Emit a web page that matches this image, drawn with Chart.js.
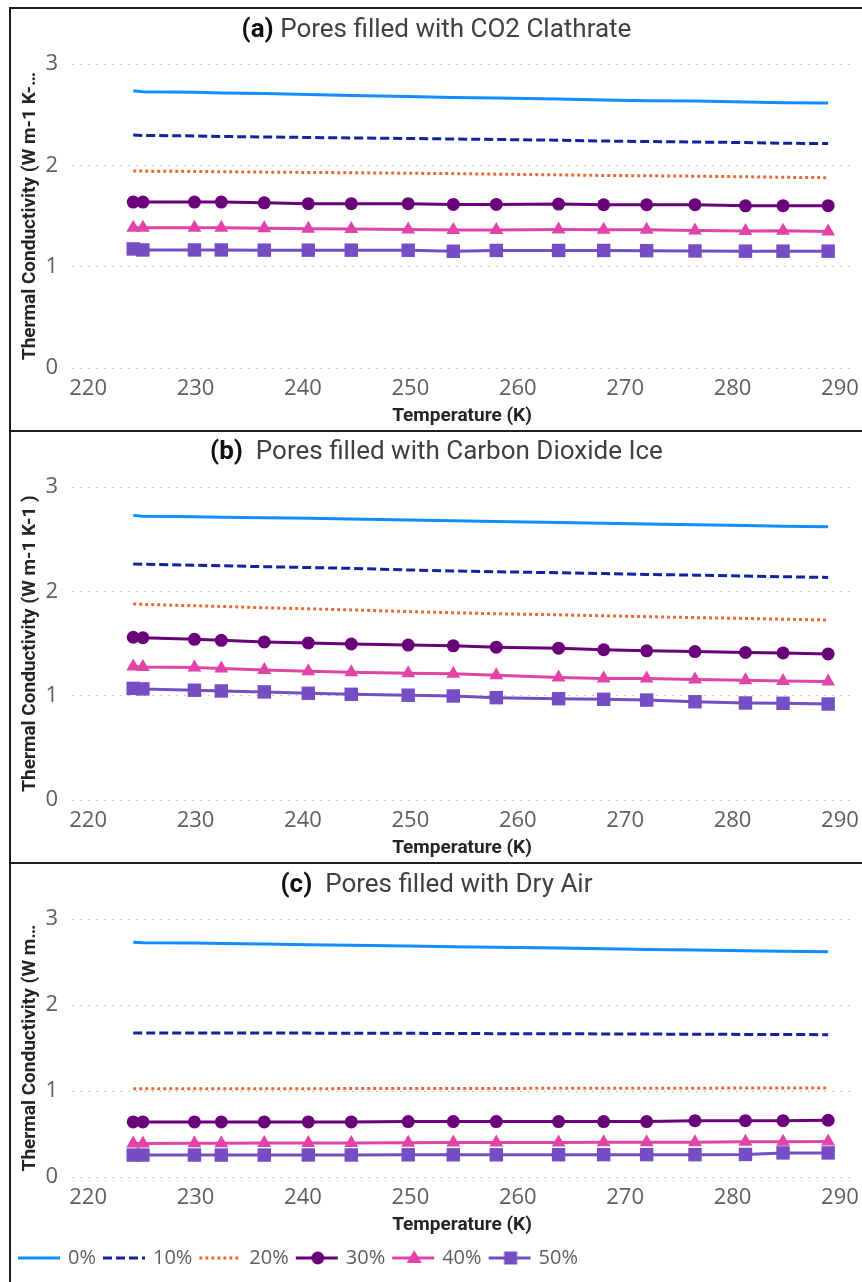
<!DOCTYPE html>
<html>
<head>
<meta charset="utf-8">
<script src="https://cdn.jsdelivr.net/npm/chart.js@4.4.1/dist/chart.umd.min.js"></script>
<style>
  body { margin:0; background:#fff; width:862px; height:1282px; overflow:hidden; position:relative; }
  .panel { position:absolute; left:9px; width:860px; border-left:2px solid #1e1e1e; border-top:2px solid #1e1e1e; }
  .title { position:absolute; left:0; width:851px; text-align:center; line-height:30px;
           font-family: Roboto, "Noto Sans", sans-serif; font-size:26px; color:#404040; white-space:pre; }
  .title b { color:#111; }
  .box { position:absolute; left:0; top:0; width:851px; }
</style>
</head>
<body>

<div class="panel" style="top:7px;height:421px">
  <div class="box" style="height:421px"><canvas id="chartA"></canvas></div>
  <div class="title" style="top:4px"><b>(a)</b> Pores filled with CO2 Clathrate</div>
</div>
<div class="panel" style="top:430px;height:430px">
  <div class="box" style="height:430px"><canvas id="chartB"></canvas></div>
  <div class="title" style="top:3px"><b>(b)</b>  Pores filled with Carbon Dioxide Ice</div>
</div>
<div class="panel" style="top:862px;height:420px">
  <div class="box" style="height:418px"><canvas id="chartC"></canvas></div>
  <div class="title" style="top:4px"><b>(c)</b>  Pores filled with Dry Air</div>
</div>

<script>
// temperatures (K) shared by every curve
var temps = [224.2, 225.1, 229.9, 232.4, 236.4, 240.5, 244.5, 249.8, 254.0, 258.0, 263.8, 268.0, 272.0, 276.5, 281.2, 284.7, 288.9]
var porosity = ['0%', '10%', '20%', '30%', '40%', '50%']
var xTicks = [220, 230, 240, 250, 260, 270, 280, 290]
var yTicks = [0, 1, 2, 3]

// (a) CO2 clathrate
var clath0  = [2.735, 2.725, 2.72, 2.715, 2.71, 2.70, 2.69, 2.68, 2.67, 2.665, 2.655, 2.645, 2.637, 2.635, 2.625, 2.617, 2.614]
var clath10 = [2.30, 2.295, 2.29, 2.285, 2.28, 2.275, 2.27, 2.265, 2.26, 2.255, 2.248, 2.24, 2.235, 2.23, 2.225, 2.218, 2.215]
var clath20 = [1.945, 1.943, 1.94, 1.937, 1.933, 1.93, 1.927, 1.922, 1.918, 1.913, 1.906, 1.90, 1.897, 1.893, 1.887, 1.882, 1.878]
var clath30 = [1.637, 1.637, 1.637, 1.637, 1.63, 1.622, 1.622, 1.622, 1.614, 1.614, 1.618, 1.611, 1.611, 1.612, 1.60, 1.602, 1.602]
var clath40 = [1.385, 1.385, 1.385, 1.383, 1.378, 1.373, 1.372, 1.368, 1.362, 1.362, 1.368, 1.365, 1.365, 1.356, 1.353, 1.355, 1.347]
var clath50 = [1.175, 1.165, 1.165, 1.165, 1.163, 1.163, 1.163, 1.162, 1.152, 1.16, 1.16, 1.16, 1.158, 1.155, 1.153, 1.153, 1.153]

// (b) carbon dioxide ice
var ice0  = [2.728, 2.72, 2.715, 2.71, 2.705, 2.70, 2.693, 2.683, 2.676, 2.67, 2.66, 2.652, 2.645, 2.638, 2.63, 2.624, 2.62]
var ice10 = [2.263, 2.26, 2.25, 2.245, 2.236, 2.228, 2.22, 2.205, 2.195, 2.188, 2.178, 2.17, 2.162, 2.155, 2.146, 2.14, 2.133]
var ice20 = [1.879, 1.875, 1.862, 1.855, 1.843, 1.832, 1.822, 1.806, 1.795, 1.785, 1.775, 1.766, 1.757, 1.748, 1.74, 1.733, 1.725]
var ice30 = [1.56, 1.555, 1.54, 1.53, 1.515, 1.505, 1.495, 1.485, 1.478, 1.465, 1.455, 1.44, 1.43, 1.423, 1.414, 1.41, 1.40]
var ice40 = [1.28, 1.275, 1.27, 1.26, 1.245, 1.235, 1.225, 1.215, 1.21, 1.195, 1.175, 1.165, 1.165, 1.155, 1.148, 1.14, 1.135]
var ice50 = [1.07, 1.065, 1.052, 1.045, 1.036, 1.023, 1.013, 1.004, 0.997, 0.981, 0.971, 0.965, 0.958, 0.942, 0.93, 0.927, 0.92]

// (c) dry air
var air0  = [2.73, 2.725, 2.72, 2.715, 2.71, 2.70, 2.695, 2.685, 2.678, 2.672, 2.663, 2.653, 2.645, 2.64, 2.632, 2.625, 2.62]
var air10 = [1.675, 1.675, 1.675, 1.675, 1.674, 1.673, 1.672, 1.671, 1.668, 1.667, 1.665, 1.664, 1.662, 1.66, 1.658, 1.657, 1.655]
var air20 = [1.025, 1.025, 1.025, 1.025, 1.026, 1.027, 1.028, 1.029, 1.03, 1.03, 1.031, 1.032, 1.032, 1.033, 1.034, 1.035, 1.035]
var air30 = [0.64, 0.64, 0.64, 0.64, 0.64, 0.64, 0.64, 0.645, 0.645, 0.645, 0.645, 0.645, 0.645, 0.655, 0.655, 0.655, 0.66]
var air40 = [0.39, 0.39, 0.392, 0.393, 0.394, 0.395, 0.396, 0.398, 0.40, 0.40, 0.402, 0.403, 0.403, 0.405, 0.41, 0.41, 0.412]
var air50 = [0.255, 0.255, 0.255, 0.255, 0.255, 0.256, 0.256, 0.258, 0.258, 0.258, 0.259, 0.26, 0.26, 0.26, 0.262, 0.28, 0.28]

// look of each porosity curve
var styles = [
  { color: '#118DFF', dash: [],     marker: false, radius: 0 },
  { color: '#12239E', dash: [9, 4], marker: false, radius: 0 },
  { color: '#E66C37', dash: [3, 3], marker: false, radius: 0 },
  { color: '#6B007B', dash: [],     marker: 'circle',   radius: 6.5 },
  { color: '#E044A7', dash: [],     marker: 'triangle', radius: 8 },
  { color: '#744EC2', dash: [],     marker: 'rect',     radius: 9.5 }
]

var tickColor = '#605E5C'
var tickFont = { family: '"Open Sans", sans-serif', size: 22 }
var titleFont = { family: 'Roboto, sans-serif', size: 19, weight: 'bold' }

function eachOf(arr, fn){ for (var i = 0; i < arr.length; i++) fn(i, arr[i]) }

function buildDatasets(series){
  var out = []
  eachOf(series, function(i, values){
    var st = styles[i]
    out.push({
      label: porosity[i],
      data: temps.map(function(t, k){ return { x: t, y: values[k] } }),
      borderColor: st.color,
      backgroundColor: st.color,
      borderWidth: 3,
      borderDash: st.dash,
      pointStyle: st.marker || 'circle',
      pointRadius: st.radius,
      pointHoverRadius: st.radius,
      pointBorderWidth: 0,
      pointBackgroundColor: st.color,
      tension: 0
    })
  })
  return out
}

// legend sample: small canvas with the line and marker
function legendSample(st){
  var c = document.createElement('canvas')
  c.width = 44; c.height = 20
  var g = c.getContext('2d')
  g.strokeStyle = st.color
  g.fillStyle = st.color
  g.lineWidth = 3
  g.setLineDash(st.dash)
  g.beginPath(); g.moveTo(1, 10); g.lineTo(43, 10); g.stroke()
  g.setLineDash([])
  if (st.marker == 'circle'){
    g.beginPath(); g.arc(23, 10, 6.5, 0, Math.PI * 2); g.fill()
  } else if (st.marker == 'triangle'){
    g.beginPath(); g.moveTo(23, 2); g.lineTo(30.5, 15); g.lineTo(15.5, 15); g.closePath(); g.fill()
  } else if (st.marker == 'rect'){
    g.fillRect(16.5, 3.5, 13, 13)
  }
  return c
}

function makeChart(id, yTitle, series, withLegend){
  var ctx = document.getElementById(id).getContext('2d')
  return new Chart(ctx, {
    type: 'line',
    data: { datasets: buildDatasets(series) },
    options: {
      responsive: true,
      maintainAspectRatio: false,
      animation: false,
      layout: { padding: { top: 55, right: 10, left: 0, bottom: withLegend ? 4 : 0 } },
      plugins: {
        tooltip: { enabled: false },
        legend: {
          display: withLegend,
          position: 'bottom',
          align: 'start',
          labels: {
            usePointStyle: true,
            pointStyleWidth: 38,
            padding: 9,
            color: tickColor,
            font: { family: '"Open Sans", sans-serif', size: 20 },
            generateLabels: function(chart){
              return chart.data.datasets.map(function(ds, i){
                return { text: ds.label, pointStyle: legendSample(styles[i]), fontColor: tickColor,
                         lineWidth: 0, hidden: false, datasetIndex: i }
              })
            }
          }
        }
      },
      scales: {
        x: {
          type: 'linear',
          min: 218.5,
          max: 291.12,
          afterBuildTicks: function(s){ s.ticks = xTicks.map(function(v){ return { value: v } }) },
          afterFit: function(s){ s.height = 62 },
          grid: { display: false },
          border: { display: false },
          ticks: { color: tickColor, font: tickFont, padding: 0, maxRotation: 0 },
          title: { display: true, text: 'Temperature (K)', color: '#252423', font: titleFont, padding: { top: 0, bottom: 2 } }
        },
        y: {
          min: 0,
          max: 3,
          afterBuildTicks: function(s){ s.ticks = yTicks.map(function(v){ return { value: v } }) },
          afterFit: function(s){ s.width = 61 },
          grid: { color: '#C8C6C4', lineWidth: 1, drawTicks: false },
          border: { display: false, dash: [2, 6] },
          ticks: { color: tickColor, font: tickFont, padding: 14 },
          title: { display: true, text: yTitle, color: '#252423', font: titleFont, padding: { top: 8, bottom: 0 } }
        }
      }
    }
  })
}

makeChart('chartA', 'Thermal Conductivity (W m-1 K-\u2026', [clath0, clath10, clath20, clath30, clath40, clath50], false)
makeChart('chartB', 'Thermal Conductivity (W m-1 K-1 )', [ice0, ice10, ice20, ice30, ice40, ice50], false)
makeChart('chartC', 'Thermal Conductivity (W m\u2026', [air0, air10, air20, air30, air40, air50], true)
</script>
</body>
</html>
